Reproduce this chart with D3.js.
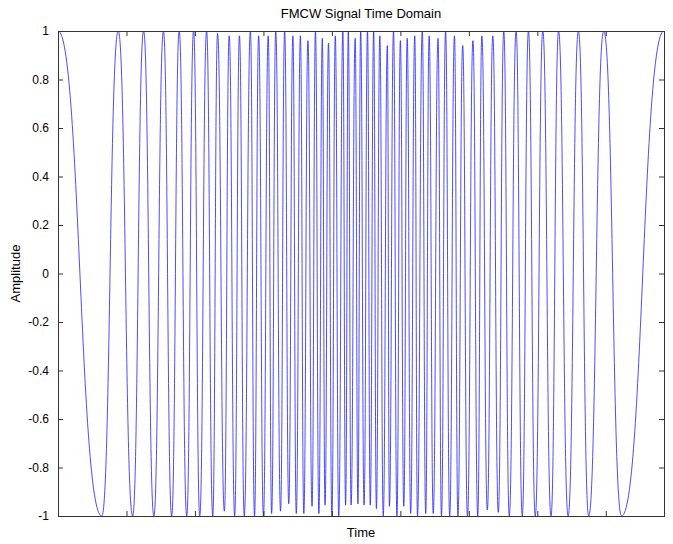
<!DOCTYPE html>
<html>
<head>
<meta charset="utf-8">
<script src="https://cdnjs.cloudflare.com/ajax/libs/d3/7.8.5/d3.min.js"></script>
<style>
  body { margin: 0; background: #fff; }
  text { font-family: "Liberation Sans", Arial, sans-serif; fill: #000; }
</style>
</head>
<body>
<svg id="chart" width="673" height="544"></svg>
<script>
// crêtes du signal (temps, amplitude)
const peakTimes = [0, 0.88, 1.25, 1.54, 1.77, 1.98, 2.17, 2.33, 2.50, 2.65, 2.81, 2.93, 3.07, 3.18, 3.31, 3.43, 3.54, 3.65, 3.76, 3.86, 3.95, 4.05, 4.16, 4.24, 4.34, 4.42,
  4.52, 4.61, 4.70, 4.81, 4.90, 5.00, 5.10, 5.21, 5.32, 5.42, 5.55, 5.66, 5.79, 5.91, 6.06, 6.19, 6.35, 6.51, 6.69, 6.87, 7.08, 7.31, 7.60, 7.97, 8.85]
const peakAmps = [1, 1, 1, 1, 1, 1, 1, 0.99, 0.98, 0.98, 1, 0.98, 0.98, 1, 1, 0.98, 0.98, 0.96, 1, 0.97, 0.95, 0.98, 1, 1, 0.97, 1,
  1, 1, 0.98, 0.94, 1, 0.96, 0.97, 0.98, 1, 0.98, 0.97, 1, 0.98, 0.94, 0.96, 0.98, 0.98, 1, 1, 1, 1, 1, 1, 1, 1]

// creux
const troughTimes = [0.64, 1.09, 1.40, 1.66, 1.88, 2.07, 2.26, 2.43, 2.58, 2.72, 2.87, 3.00, 3.12, 3.25, 3.37, 3.48, 3.59, 3.71, 3.81, 3.90, 4.00, 4.10, 4.20, 4.28, 4.38,
  4.47, 4.56, 4.65, 4.75, 4.84, 4.95, 5.05, 5.15, 5.25, 5.37, 5.48, 5.60, 5.72, 5.84, 5.98, 6.13, 6.27, 6.43, 6.59, 6.78, 6.97, 7.20, 7.45, 7.75, 8.23]
const troughAmps = [-1, -1, -1, -1, -1, -1, -1, -0.98, -1, -1, -1, -1, -0.99, -0.98, -0.95, -0.99, -0.99, -0.96, -0.99, -0.955, -1, -1, -0.955, -0.955, -0.95,
  -0.955, -0.955, -0.97, -1, -0.96, -1, -0.96, -0.99, -1, -0.99, -0.99, -1, -1, -1, -1, -1, -0.975, -0.985, -1, -1, -1, -1, -1, -1, -1]

const xTicks = [1, 2, 3, 4, 5, 6, 7, 8]
const yTicks = [1, 0.8, 0.6, 0.4, 0.2, 0, -0.2, -0.4, -0.6, -0.8, -1]
const yTickLabels = ['1', '0.8', '0.6', '0.4', '0.2', '0', '-0.2', '-0.4', '-0.6', '-0.8', '-1']

const totalWidth = 673, totalHeight = 544
const margin = { top: 31, right: 9, bottom: 28, left: 58 },
  chartWidth = totalWidth - margin.left - margin.right,
  chartHeight = totalHeight - margin.top - margin.bottom

const svg = d3.select('#chart')
const chart = svg.append('g')
  .attr('transform', 'translate(' + margin.left + ',' + margin.top + ')')

const xScale = d3.scaleLinear().domain([0, 8.85]).range([0, chartWidth])
const yScale = d3.scaleLinear().domain([-1, 1]).range([chartHeight, 0])

// points du signal, crêtes et creux mélangés
let points = []
peakTimes.forEach((t, i) => points.push({ t: t, v: peakAmps[i] }))
troughTimes.forEach((t, i) => points.push({ t: t, v: troughAmps[i] }))
points.sort((a, b) => a.t - b.t)

chart.append('clipPath').attr('id', 'clip')
  .append('rect').attr('width', chartWidth).attr('height', chartHeight)

// tangente horizontale à chaque extremum
const line = d3.line()
  .x(d => xScale(d.t))
  .y(d => yScale(d.v))
  .curve(d3.curveBumpX)

chart.append('path')
  .datum(points)
  .attr('clip-path', 'url(#clip)')
  .attr('fill', 'none')
  .attr('stroke', '#1f1fff')
  .attr('stroke-width', 0.8)
  .attr('d', line)

// axes (graduations vers l'intérieur, style matlab)
const axisColor = '#333'
function styleAxis(g) {
  g.select('.domain').remove()
  g.selectAll('line').attr('stroke', axisColor)
  g.selectAll('text').style('font-size', '12px').attr('fill', '#000')
}

chart.append('g')
  .call(d3.axisLeft(yScale).tickValues(yTicks).tickSize(-5).tickPadding(9)
    .tickFormat((d, i) => yTickLabels[i]))
  .call(styleAxis)

chart.append('g')
  .attr('transform', 'translate(' + chartWidth + ',0)')
  .call(d3.axisRight(yScale).tickValues(yTicks).tickSize(-5).tickFormat(''))
  .call(styleAxis)

chart.append('g')
  .attr('transform', 'translate(0,' + chartHeight + ')')
  .call(d3.axisBottom(xScale).tickValues(xTicks).tickSize(-5).tickFormat(''))
  .call(styleAxis)

chart.append('g')
  .call(d3.axisTop(xScale).tickValues(xTicks).tickSize(-5).tickFormat(''))
  .call(styleAxis)

chart.append('rect')
  .attr('width', chartWidth)
  .attr('height', chartHeight)
  .attr('fill', 'none')
  .attr('stroke', axisColor)
  .attr('stroke-width', 1)
  .attr('shape-rendering', 'crispEdges')

// titre et étiquettes
chart.append('text')
  .attr('x', chartWidth / 2)
  .attr('y', -13)
  .style('text-anchor', 'middle')
  .style('font-size', '13px')
  .text('FMCW Signal Time Domain')

chart.append('text')
  .attr('x', chartWidth / 2)
  .attr('y', chartHeight + 21)
  .style('text-anchor', 'middle')
  .style('font-size', '13px')
  .text('Time')

chart.append('text')
  .attr('transform', 'translate(-38,' + (chartHeight / 2) + ') rotate(-90)')
  .style('text-anchor', 'middle')
  .style('font-size', '13px')
  .text('Amplitude')
</script>
</body>
</html>
